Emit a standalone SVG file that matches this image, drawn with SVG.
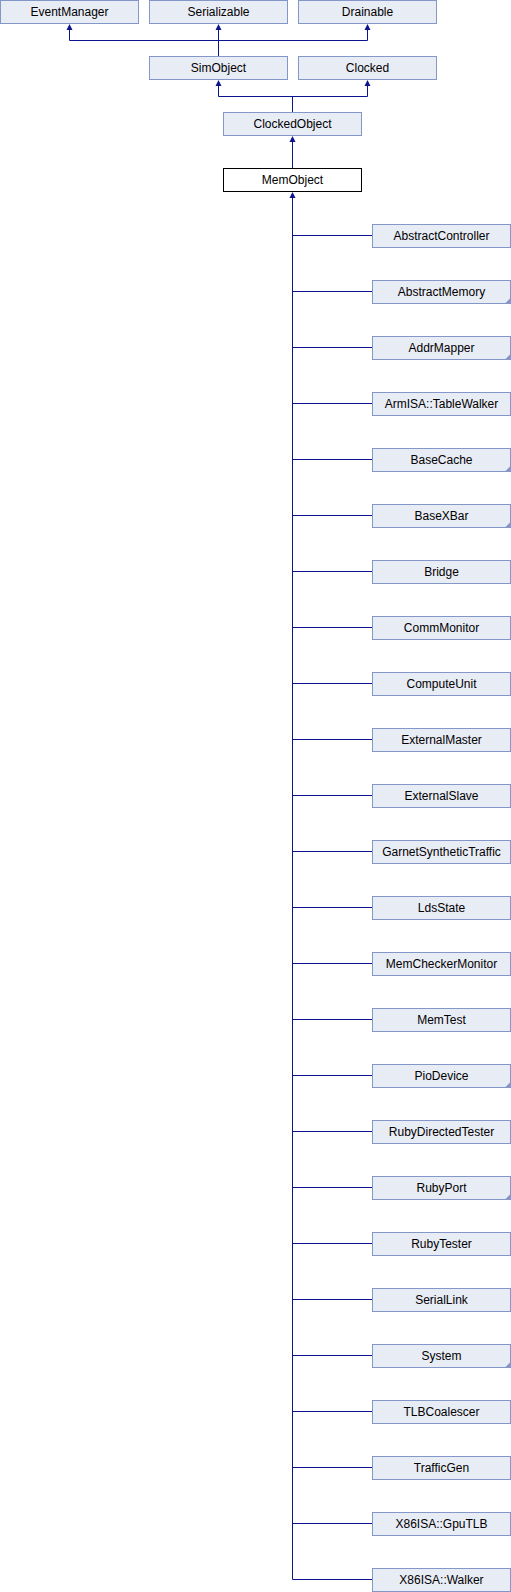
<svg xmlns="http://www.w3.org/2000/svg" width="511" height="1592" viewBox="0 0 511 1592">
<style>
.b{fill:#e8ecf5;stroke:#8497c9;stroke-width:1}
.m{fill:#ffffff;stroke:#000000;stroke-width:1}
.t{font-family:"Liberation Sans",Arial,sans-serif;font-size:12px;fill:#000000;text-anchor:middle}
.l{fill:none;stroke:#0c138e;stroke-width:1}
.a{fill:#0c138e}
.c{fill:#8497c9}
</style>
<defs>
<polygon id="ar" points="0,0 -3,6 3,6"/>
</defs>
<g id="connectors">
<path class="l" d="M69.5,29V40.5H367.5V29M218.5,29V56"/>
<path class="l" d="M218.5,85V96.5H367.5V85M292.5,96.5V112"/>
<path class="l" d="M292.5,141V168"/>
<path class="l" d="M292.5,197V1579.5"/>
<path class="l" d="M292.5,235.5H372M292.5,291.5H372M292.5,347.5H372M292.5,403.5H372M292.5,459.5H372M292.5,515.5H372M292.5,571.5H372M292.5,627.5H372M292.5,683.5H372M292.5,739.5H372M292.5,795.5H372M292.5,851.5H372M292.5,907.5H372M292.5,963.5H372M292.5,1019.5H372M292.5,1075.5H372M292.5,1131.5H372M292.5,1187.5H372M292.5,1243.5H372M292.5,1299.5H372M292.5,1355.5H372M292.5,1411.5H372M292.5,1467.5H372M292.5,1523.5H372M292.5,1579.5H372"/>
<use href="#ar" class="a" x="69.5" y="24"/>
<use href="#ar" class="a" x="218.5" y="24"/>
<use href="#ar" class="a" x="367.5" y="24"/>
<use href="#ar" class="a" x="218.5" y="80"/>
<use href="#ar" class="a" x="367.5" y="80"/>
<use href="#ar" class="a" x="292.5" y="136"/>
<use href="#ar" class="a" x="292.5" y="192"/>
</g>
<g id="EventManager"><rect class="b" x="0.5" y="0.5" width="138" height="23"/><text class="t" x="69.5" y="16">EventManager</text></g>
<g id="Serializable"><rect class="b" x="149.5" y="0.5" width="138" height="23"/><text class="t" x="218.5" y="16">Serializable</text></g>
<g id="Drainable"><rect class="b" x="298.5" y="0.5" width="138" height="23"/><text class="t" x="367.5" y="16">Drainable</text></g>
<g id="SimObject"><rect class="b" x="149.5" y="56.5" width="138" height="23"/><text class="t" x="218.5" y="72">SimObject</text></g>
<g id="Clocked"><rect class="b" x="298.5" y="56.5" width="138" height="23"/><text class="t" x="367.5" y="72">Clocked</text></g>
<g id="ClockedObject"><rect class="b" x="223.5" y="112.5" width="138" height="23"/><text class="t" x="292.5" y="128">ClockedObject</text></g>
<g id="MemObject"><rect class="m" x="223.5" y="168.5" width="138" height="23"/><text class="t" x="292.5" y="184">MemObject</text></g>
<g id="AbstractController"><rect class="b" x="372.5" y="224.5" width="138" height="23"/><text class="t" x="441.5" y="240">AbstractController</text></g>
<g id="AbstractMemory"><rect class="b" x="372.5" y="280.5" width="138" height="23"/><polygon class="c" points="510.5,298 510.5,303.5 505,303.5"/><text class="t" x="441.5" y="296">AbstractMemory</text></g>
<g id="AddrMapper"><rect class="b" x="372.5" y="336.5" width="138" height="23"/><polygon class="c" points="510.5,354 510.5,359.5 505,359.5"/><text class="t" x="441.5" y="352">AddrMapper</text></g>
<g id="ArmISA_TableWalker"><rect class="b" x="372.5" y="392.5" width="138" height="23"/><text class="t" x="441.5" y="408">ArmISA::TableWalker</text></g>
<g id="BaseCache"><rect class="b" x="372.5" y="448.5" width="138" height="23"/><polygon class="c" points="510.5,466 510.5,471.5 505,471.5"/><text class="t" x="441.5" y="464">BaseCache</text></g>
<g id="BaseXBar"><rect class="b" x="372.5" y="504.5" width="138" height="23"/><polygon class="c" points="510.5,522 510.5,527.5 505,527.5"/><text class="t" x="441.5" y="520">BaseXBar</text></g>
<g id="Bridge"><rect class="b" x="372.5" y="560.5" width="138" height="23"/><text class="t" x="441.5" y="576">Bridge</text></g>
<g id="CommMonitor"><rect class="b" x="372.5" y="616.5" width="138" height="23"/><text class="t" x="441.5" y="632">CommMonitor</text></g>
<g id="ComputeUnit"><rect class="b" x="372.5" y="672.5" width="138" height="23"/><text class="t" x="441.5" y="688">ComputeUnit</text></g>
<g id="ExternalMaster"><rect class="b" x="372.5" y="728.5" width="138" height="23"/><text class="t" x="441.5" y="744">ExternalMaster</text></g>
<g id="ExternalSlave"><rect class="b" x="372.5" y="784.5" width="138" height="23"/><text class="t" x="441.5" y="800">ExternalSlave</text></g>
<g id="GarnetSyntheticTraffic"><rect class="b" x="372.5" y="840.5" width="138" height="23"/><text class="t" x="441.5" y="856">GarnetSyntheticTraffic</text></g>
<g id="LdsState"><rect class="b" x="372.5" y="896.5" width="138" height="23"/><text class="t" x="441.5" y="912">LdsState</text></g>
<g id="MemCheckerMonitor"><rect class="b" x="372.5" y="952.5" width="138" height="23"/><text class="t" x="441.5" y="968">MemCheckerMonitor</text></g>
<g id="MemTest"><rect class="b" x="372.5" y="1008.5" width="138" height="23"/><text class="t" x="441.5" y="1024">MemTest</text></g>
<g id="PioDevice"><rect class="b" x="372.5" y="1064.5" width="138" height="23"/><polygon class="c" points="510.5,1082 510.5,1087.5 505,1087.5"/><text class="t" x="441.5" y="1080">PioDevice</text></g>
<g id="RubyDirectedTester"><rect class="b" x="372.5" y="1120.5" width="138" height="23"/><text class="t" x="441.5" y="1136">RubyDirectedTester</text></g>
<g id="RubyPort"><rect class="b" x="372.5" y="1176.5" width="138" height="23"/><polygon class="c" points="510.5,1194 510.5,1199.5 505,1199.5"/><text class="t" x="441.5" y="1192">RubyPort</text></g>
<g id="RubyTester"><rect class="b" x="372.5" y="1232.5" width="138" height="23"/><text class="t" x="441.5" y="1248">RubyTester</text></g>
<g id="SerialLink"><rect class="b" x="372.5" y="1288.5" width="138" height="23"/><text class="t" x="441.5" y="1304">SerialLink</text></g>
<g id="System"><rect class="b" x="372.5" y="1344.5" width="138" height="23"/><polygon class="c" points="510.5,1362 510.5,1367.5 505,1367.5"/><text class="t" x="441.5" y="1360">System</text></g>
<g id="TLBCoalescer"><rect class="b" x="372.5" y="1400.5" width="138" height="23"/><text class="t" x="441.5" y="1416">TLBCoalescer</text></g>
<g id="TrafficGen"><rect class="b" x="372.5" y="1456.5" width="138" height="23"/><text class="t" x="441.5" y="1472">TrafficGen</text></g>
<g id="X86ISA_GpuTLB"><rect class="b" x="372.5" y="1512.5" width="138" height="23"/><text class="t" x="441.5" y="1528">X86ISA::GpuTLB</text></g>
<g id="X86ISA_Walker"><rect class="b" x="372.5" y="1568.5" width="138" height="23"/><text class="t" x="441.5" y="1584">X86ISA::Walker</text></g>
</svg>
